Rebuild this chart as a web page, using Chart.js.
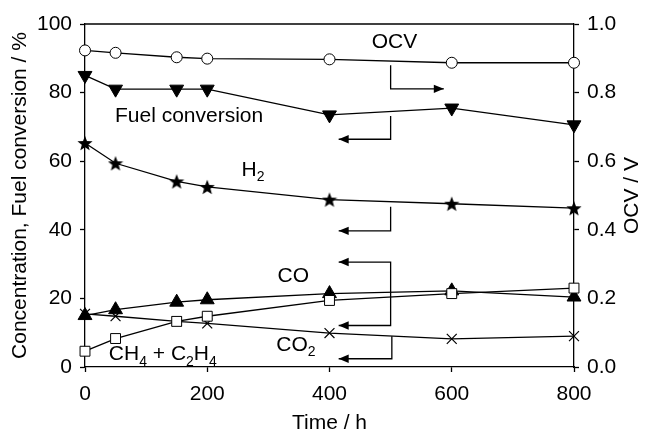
<!DOCTYPE html>
<html>
<head>
<meta charset="utf-8">
<script src="https://cdn.jsdelivr.net/npm/chart.js@4.4.1/dist/chart.umd.min.js"></script>
<style>
  html, body { margin: 0; padding: 0; background: #fff; }
</style>
</head>
<body>
<canvas id="myChart" width="646" height="432"></canvas>
<script>
// Data
const hours = [0, 50, 150, 200, 400, 600, 800];
const ocv = [0.923, 0.916, 0.903, 0.899, 0.897, 0.887, 0.887];
const fuelConversion = [85, 81, 81, 81, 73.5, 75.5, 70.6];
const h2 = [65.3, 59.4, 54.1, 52.5, 48.8, 47.6, 46.3];
const co = [15, 16.7, 18.9, 19.6, 21.4, 22.2, 20.4];
const ch4c2h4 = [4.6, 8.3, 13.3, 14.8, 19.4, 21.4, 23];
const co2 = [15.5, 14.8, 13.3, 12.7, 9.9, 8.2, 9.0];
const xTickValues = [0, 200, 400, 600, 800];

const FONT = "'Liberation Sans', Arial, Helvetica, sans-serif";
const ctx = document.getElementById('myChart');

const pts = (vals) => hours.map((h, i) => ({ x: h, y: vals[i] }));

// filled five-point star marker
function makeStar(size) {
    const c = document.createElement('canvas');
    c.width = size; c.height = size;
    const g = c.getContext('2d');
    const cx = size / 2, cy = size / 2 + 0.8, R = size / 2, r = R * 0.42;
    g.beginPath();
    for (let i = 0; i < 10; i++) {
        const a = -Math.PI / 2 + i * Math.PI / 5;
        const rr = i % 2 === 0 ? R : r;
        g.lineTo(cx + Math.cos(a) * rr, cy + Math.sin(a) * rr);
    }
    g.closePath();
    g.fillStyle = '#000';
    g.fill();
    return c;
}
const star = makeStar(16);

const base = {
    borderColor: '#000',
    borderWidth: 1.3,
    pointBorderColor: '#000',
    pointBorderWidth: 1,
    fill: false,
    clip: false,
    tension: 0
};

// Text labels and bracket arrows (x in hours, y in % of the left axis)
const labels = [
    { parts: [['OCV']], x: 469, y: 94.8 },
    { parts: [['Fuel conversion']], x: 49, y: 73.2 },
    { parts: [['H'], ['2', true]], x: 256, y: 57.3 },
    { parts: [['CO']], x: 315, y: 26.6 },
    { parts: [['CO'], ['2', true]], x: 313, y: 6.4 },
    { parts: [['CH'], ['4', true], [' + C'], ['2', true], ['H'], ['4', true]], x: 39, y: 3.6 }
];
const arrows = [
    { path: [[500, 88], [500, 81.1], [587, 81.1]], head: 'end' },
    { path: [[500, 73.2], [500, 66.4], [415, 66.4]], head: 'end' },
    { path: [[500, 46.7], [500, 39.7], [415, 39.7]], head: 'end' },
    { path: [[415, 30.6], [500, 30.6], [500, 12.1], [415, 12.1]], head: 'both' },
    { path: [[502, 9.0], [502, 2.4], [415, 2.4]], head: 'end' }
];

function drawHead(g, tip, from) {
    const dx = tip[0] - from[0], dy = tip[1] - from[1];
    const len = Math.hypot(dx, dy) || 1;
    const ux = dx / len, uy = dy / len;
    const L = 10, W = 4.2;
    g.beginPath();
    g.moveTo(tip[0], tip[1]);
    g.lineTo(tip[0] - ux * L - uy * W, tip[1] - uy * L + ux * W);
    g.lineTo(tip[0] - ux * L + uy * W, tip[1] - uy * L - ux * W);
    g.closePath();
    g.fill();
}

const annotations = {
    id: 'annotations',
    afterDatasetsDraw(chart) {
        const g = chart.ctx;
        const { x, y } = chart.scales;
        const a = chart.chartArea;
        g.save();
        g.strokeStyle = '#000';
        g.fillStyle = '#000';
        g.lineWidth = 1.3;
        // top frame line
        g.beginPath();
        g.moveTo(a.left, a.top);
        g.lineTo(a.right, a.top);
        g.stroke();

        arrows.forEach(ar => {
            const p = ar.path.map(q => [x.getPixelForValue(q[0]), y.getPixelForValue(q[1])]);
            g.beginPath();
            p.forEach((q, i) => i ? g.lineTo(q[0], q[1]) : g.moveTo(q[0], q[1]));
            g.stroke();
            drawHead(g, p[p.length - 1], p[p.length - 2]);
            if (ar.head === 'both') drawHead(g, p[0], p[1]);
        });

        g.textBaseline = 'middle';
        g.textAlign = 'left';
        labels.forEach(lb => {
            let px = x.getPixelForValue(lb.x);
            const py = y.getPixelForValue(lb.y);
            lb.parts.forEach(([t, sub]) => {
                g.font = (sub ? '14px ' : '21px ') + FONT;
                g.fillText(t, px, sub ? py + 7 : py);
                px += g.measureText(t).width;
            });
        });

        // right axis title, reading upwards
        g.font = '21px ' + FONT;
        g.textAlign = 'center';
        g.translate(632, (a.top + a.bottom) / 2);
        g.rotate(-Math.PI / 2);
        g.fillText('OCV / V', 0, 0);
        g.restore();
    }
};

const data = {
    datasets: [
        { ...base, label: 'CH4 + C2H4', data: pts(ch4c2h4), yAxisID: 'y',
          pointStyle: 'rect', pointRadius: 7, pointBackgroundColor: '#fff' },
        { ...base, label: 'CO', data: pts(co), yAxisID: 'y',
          pointStyle: 'triangle', pointRadius: 8, pointBackgroundColor: '#000' },
        { ...base, label: 'CO2', data: pts(co2), yAxisID: 'y',
          pointStyle: 'crossRot', pointRadius: 7, pointBorderWidth: 1.2 },
        { ...base, label: 'H2', data: pts(h2), yAxisID: 'y',
          pointStyle: star, pointRadius: 8 },
        { ...base, label: 'Fuel conversion', data: pts(fuelConversion), yAxisID: 'y',
          pointStyle: 'triangle', pointRotation: 180, pointRadius: 8, pointBackgroundColor: '#000' },
        { ...base, label: 'OCV', data: pts(ocv), yAxisID: 'y1',
          pointStyle: 'circle', pointRadius: 5.5, pointBackgroundColor: '#fff' }
    ]
};

const axisCommon = {
    border: { display: true, color: '#000', width: 1.3 },
    grid: { drawOnChartArea: false, drawTicks: true, tickLength: 5, tickColor: '#000', tickWidth: 1.3 },
    title: { display: true, color: '#000', font: { family: FONT, size: 21 } }
};

const config = {
    type: 'line',
    data: data,
    options: {
        responsive: false,
        animation: false,
        layout: { padding: { top: 24, left: 0, right: 0, bottom: 0 } },
        plugins: {
            legend: { display: false },
            tooltip: { enabled: false }
        },
        scales: {
            x: {
                ...axisCommon,
                type: 'linear',
                min: 0,
                max: 800,
                afterBuildTicks: (s) => { s.ticks = xTickValues.map(v => ({ value: v })); },
                afterFit: (s) => { s.height = 65; },
                ticks: { color: '#000', padding: 10, font: { family: FONT, size: 21 } },
                title: { ...axisCommon.title, text: 'Time / h', font: { family: FONT, size: 21, lineHeight: 0.8 },
                         padding: { top: 0, bottom: 0 } }
            },
            y: {
                ...axisCommon,
                position: 'left',
                min: 0,
                max: 100,
                ticks: { stepSize: 20, color: '#000', padding: 8, font: { family: FONT, size: 21 } },
                afterFit: (s) => { s.width = 85; },
                title: { ...axisCommon.title, text: 'Concentration, Fuel conversion / %', padding: { top: 8, bottom: 0 } }
            },
            y1: {
                ...axisCommon,
                position: 'right',
                min: 0,
                max: 1,
                ticks: { stepSize: 0.2, color: '#000', padding: 8, font: { family: FONT, size: 21 },
                         callback: (v) => v.toFixed(1) },
                afterFit: (s) => { s.width = 72; },
                title: { display: false }
            }
        }
    },
    plugins: [annotations]
};

const myChart = new Chart(ctx, config);
</script>
</body>
</html>
